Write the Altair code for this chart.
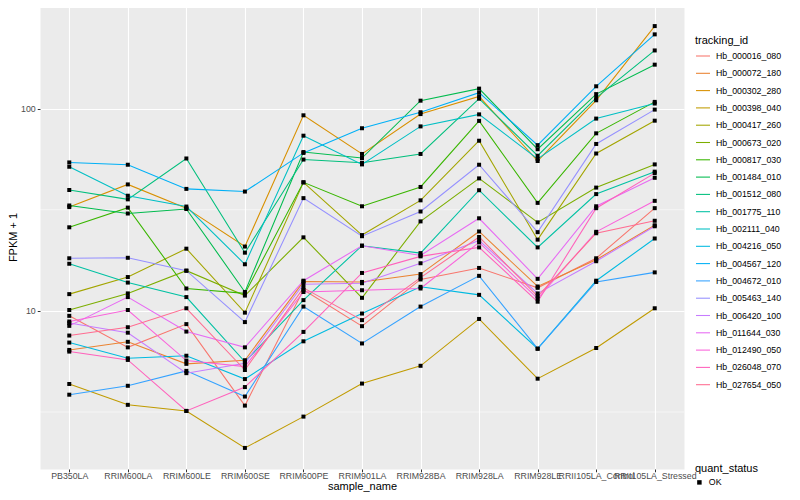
import altair as alt
import pandas as pd

samples = ["PB350LA", "RRIM600LA", "RRIM600LE", "RRIM600SE", "RRIM600PE", "RRIM901LA",
           "RRIM928BA", "RRIM928LA", "RRIM928LE", "RRII105LA_Control", "RRII105LA_Stressed"]

ids = ["Hb_000016_080", "Hb_000072_180", "Hb_000302_280", "Hb_000398_040", "Hb_000417_260",
       "Hb_000673_020", "Hb_000817_030", "Hb_001484_010", "Hb_001512_080", "Hb_001775_110",
       "Hb_002111_040", "Hb_004216_050", "Hb_004567_120", "Hb_004672_010", "Hb_005463_140",
       "Hb_006420_100", "Hb_011644_030", "Hb_012490_050", "Hb_026048_070", "Hb_027654_050"]

colors = ["#F8766D", "#EA8331", "#D89000", "#C09B00", "#A3A500", "#7CAE00", "#39B600", "#00BB4E",
          "#00BF7D", "#00C1A3", "#00BFC4", "#00BAE0", "#00B0F6", "#35A2FF", "#9590FF", "#C77CFF",
          "#E76BF3", "#FA62DB", "#FF62BC", "#FF6C91"]

hb_000016_080 = [9.45, 6.6, 8.6, 3.4, 12.7, 8.4, 14.3, 16.3, 13.0, 18.2, 32.2]
hb_000072_180 = [6.41, 7.03, 5.47, 5.7, 13.96, 13.9, 15.2, 24.7, 13.2, 17.9, 26.5]
hb_000302_280 = [32.6, 42.2, 32.2, 20.8, 92.7, 59.7, 94.0, 115.0, 55.1, 110.0, 256.0]
hb_000398_040 = [4.35, 3.43, 3.2, 2.1, 3.0, 4.37, 5.35, 9.12, 4.62, 6.55, 10.3]
hb_000417_260 = [12.1, 14.7, 20.3, 9.8, 43.2, 23.7, 35.2, 69.4, 22.5, 60.0, 87.2]
hb_000673_020 = [10.1, 12.2, 15.8, 11.9, 23.1, 11.6, 27.7, 45.2, 27.4, 40.7, 53.0]
hb_000817_030 = [25.9, 32.4, 12.9, 12.2, 43.2, 32.9, 41.0, 87.0, 34.2, 75.5, 108.0]
hb_001484_010 = [33.2, 30.3, 31.9, 12.4, 61.0, 57.0, 109.5, 125.6, 63.0, 118.0, 165.0]
hb_001512_080 = [39.6, 35.6, 56.7, 19.4, 56.0, 54.0, 59.7, 112.0, 58.5, 113.0, 194.0]
hb_001775_110 = [17.1, 13.8, 11.7, 5.6, 11.3, 21.0, 19.3, 39.5, 20.6, 37.8, 48.8]
hb_002111_040 = [51.6, 37.1, 32.8, 17.0, 73.5, 53.0, 81.7, 93.7, 56.4, 89.3, 106.0]
hb_004216_050 = [6.97, 5.83, 6.0, 4.6, 7.07, 9.7, 13.15, 12.0, 6.5, 14.1, 22.8]
hb_004567_120 = [54.2, 52.8, 40.1, 38.9, 60.4, 80.0, 96.0, 120.0, 66.0, 129.0, 233.0]
hb_004672_010 = [3.85, 4.26, 5.05, 3.77, 10.5, 6.9, 10.5, 14.9, 6.5, 13.9, 15.5]
hb_005463_140 = [18.2, 18.3, 15.8, 8.8, 36.1, 23.4, 31.0, 52.8, 24.5, 66.9, 98.9]
hb_006420_100 = [8.7, 7.8, 4.92, 5.5, 13.55, 13.7, 17.2, 22.3, 12.2, 17.6, 26.2]
hb_011644_030 = [8.43, 11.7, 7.9, 6.6, 14.1, 21.0, 18.8, 28.7, 14.4, 32.9, 45.5]
hb_012490_050 = [8.86, 10.1, 5.68, 5.3, 12.4, 12.65, 12.9, 21.8, 11.5, 24.6, 35.0]
hb_026048_070 = [6.29, 5.72, 3.2, 4.2, 7.87, 15.4, 18.6, 20.6, 11.1, 32.2, 48.0]
hb_027654_050 = [7.55, 8.3, 10.3, 5.1, 13.0, 9.0, 14.6, 23.2, 11.8, 24.2, 27.9]

series = [hb_000016_080, hb_000072_180, hb_000302_280, hb_000398_040, hb_000417_260,
          hb_000673_020, hb_000817_030, hb_001484_010, hb_001512_080, hb_001775_110,
          hb_002111_040, hb_004216_050, hb_004567_120, hb_004672_010, hb_005463_140,
          hb_006420_100, hb_011644_030, hb_012490_050, hb_026048_070, hb_027654_050]

y_major = [10, 100]
y_minor = [3.1623, 31.623, 316.23]
y_domain = [1.652, 325.5]

rows = []
for tid, vals in zip(ids, series):
    for s, v in zip(samples, vals):
        rows.append({"tracking_id": tid, "sample_name": s, "fpkm": v, "quant_status": "OK"})
df = pd.DataFrame(rows)
minor_df = pd.DataFrame({"fpkm": y_minor})

FONT = "Liberation Sans"

x_axis = alt.Axis(labelAngle=0, labelOverlap=False, grid=True, gridColor="white",
                  gridWidth=1.1, domain=False, tickColor="#333333", tickSize=2.75,
                  labelFontSize=8.8, labelColor="#4D4D4D", labelPadding=-0.5,
                  labelFont=FONT, titleFont=FONT, titleFontSize=11,
                  titleFontWeight="normal", titleColor="black",
                  titleBaseline="alphabetic", titleY=20)
x_scale = alt.Scale(type="point", paddingOuter=0.6)
y_axis = alt.Axis(values=y_major, format="d", grid=True, gridColor="white",
                  gridWidth=1.1, domain=False, tickColor="#333333", tickSize=2.75,
                  labelFontSize=8.8, labelColor="#4D4D4D", labelPadding=2,
                  labelFont=FONT, titleFont=FONT, titleFontSize=11,
                  titleFontWeight="normal", titleColor="black",
                  titleAngle=270, titleX=-24, titleY=232, titleAlign="center",
                  titleBaseline="alphabetic")
y_scale = alt.Scale(type="log", domain=y_domain, nice=False)

minor = alt.Chart(minor_df).mark_rule(color="white", strokeWidth=0.55).encode(
    y=alt.Y("fpkm:Q", scale=y_scale, title="FPKM + 1", axis=y_axis)
)

lines = alt.Chart(df).mark_line(strokeWidth=1.07).encode(
    x=alt.X("sample_name:N", sort=samples, title="sample_name", scale=x_scale, axis=x_axis),
    y=alt.Y("fpkm:Q", scale=y_scale, title="FPKM + 1", axis=y_axis),
    color=alt.Color("tracking_id:N", scale=alt.Scale(domain=ids, range=colors),
                    legend=alt.Legend(orient="none", legendX=655, legendY=30,
                                      title="tracking_id", symbolType="stroke",
                                      symbolStrokeWidth=1.07, symbolSize=196,
                                      rowPadding=4.3, titlePadding=2, labelOffset=5)),
    detail="tracking_id:N",
)

points = alt.Chart(df).mark_point(filled=True, color="black", size=16, opacity=1).encode(
    x=alt.X("sample_name:N", sort=samples, title="sample_name", scale=x_scale, axis=x_axis),
    y=alt.Y("fpkm:Q", scale=y_scale, title="FPKM + 1", axis=y_axis),
    shape=alt.Shape("quant_status:N", scale=alt.Scale(domain=["OK"], range=["square"]),
                    legend=alt.Legend(orient="none", legendX=655, legendY=458,
                                      title="quant_status", symbolFillColor="black",
                                      symbolStrokeColor="black", symbolSize=20,
                                      titlePadding=4, labelOffset=5)),
)

chart = alt.layer(minor, lines, points).properties(
    width=644, height=464,
    autosize=alt.AutoSizeParams(type="none"),
    padding={"left": 32, "top": -3, "right": 108, "bottom": 23},
).configure(background="white").configure_view(
    fill="#EBEBEB", stroke="transparent"
).configure_legend(
    titleFont=FONT, titleFontSize=11, titleFontWeight="normal", titleColor="black",
    labelFont=FONT, labelFontSize=8.8, labelColor="black",
)

chart.save("out.html", embed_options={"renderer": "svg", "actions": False})
